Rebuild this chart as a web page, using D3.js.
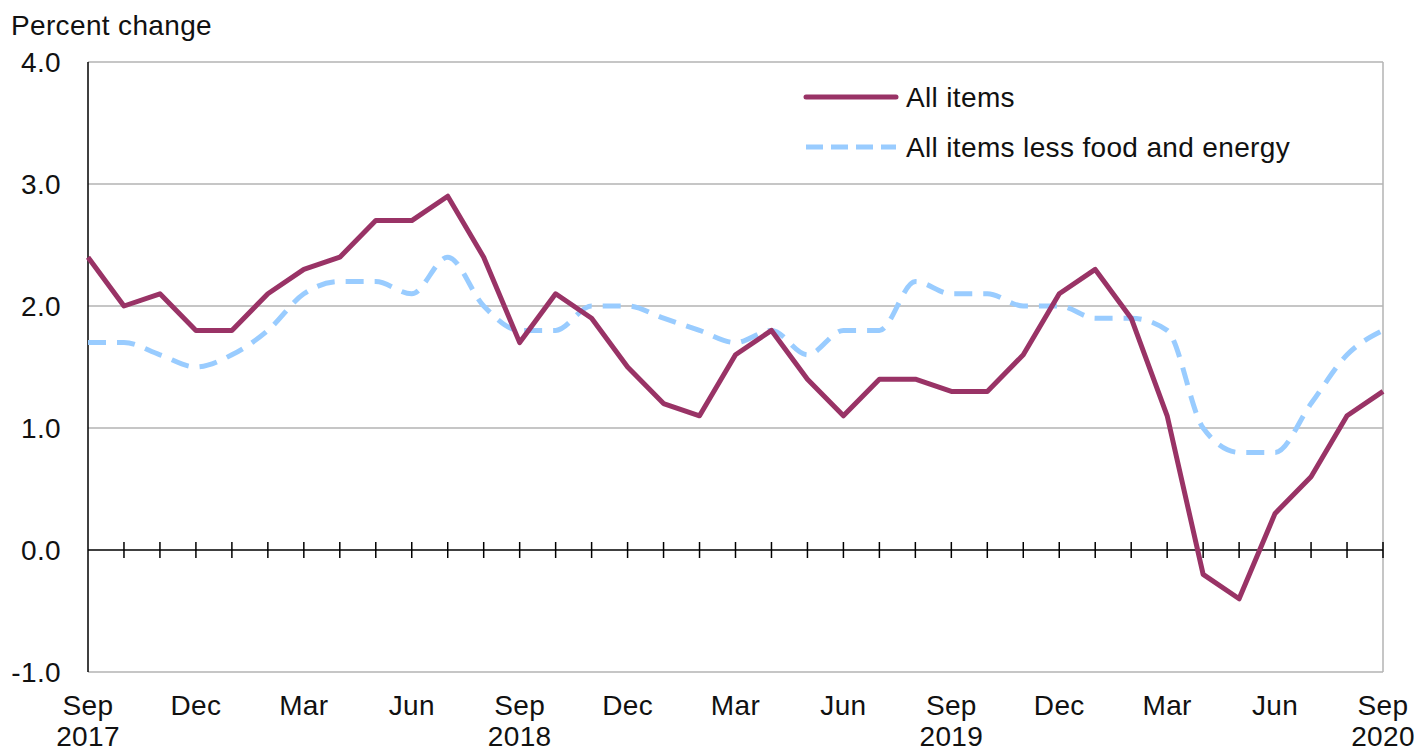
<!DOCTYPE html>
<html>
<head>
<meta charset="utf-8">
<script src="https://d3js.org/d3.v7.min.js"></script>
<style>
  body { margin: 0; background: #fff; }
  svg { display: block; font-family: "Liberation Sans", Arial, sans-serif; letter-spacing: 0.35px; }
</style>
</head>
<body>
<div id="grafico"></div>
<script>
// Meses de Sep 2017 a Sep 2020
var months = ["Sep","Oct","Nov","Dec","Jan","Feb","Mar","Apr","May","Jun","Jul","Aug",
  "Sep","Oct","Nov","Dec","Jan","Feb","Mar","Apr","May","Jun","Jul","Aug",
  "Sep","Oct","Nov","Dec","Jan","Feb","Mar","Apr","May","Jun","Jul","Aug","Sep"];
var years = {0: "2017", 12: "2018", 24: "2019", 36: "2020"};

var allItems = [2.4, 2.0, 2.1, 1.8, 1.8, 2.1, 2.3, 2.4, 2.7, 2.7, 2.9, 2.4,
  1.7, 2.1, 1.9, 1.5, 1.2, 1.1, 1.6, 1.8, 1.4, 1.1, 1.4, 1.4,
  1.3, 1.3, 1.6, 2.1, 2.3, 1.9, 1.1, -0.2, -0.4, 0.3, 0.6, 1.1, 1.3];
var coreItems = [1.7, 1.7, 1.6, 1.5, 1.6, 1.8, 2.1, 2.2, 2.2, 2.1, 2.4, 2.0,
  1.8, 1.8, 2.0, 2.0, 1.9, 1.8, 1.7, 1.8, 1.6, 1.8, 1.8, 2.2,
  2.1, 2.1, 2.0, 2.0, 1.9, 1.9, 1.8, 1.0, 0.8, 0.8, 1.2, 1.6, 1.8];
var yTicks = [-1, 0, 1, 2, 3, 4];
var seriesNames = ["All items", "All items less food and energy"];

var width = 1414, height = 753;
var pLeft = 88, pRight = 1383, pTop = 62, pBottom = 672;
var fs = 28;

var svg = d3.select("#grafico").append("svg")
  .attr("width", width).attr("height", height);

var x = d3.scaleLinear().domain([0, months.length - 1]).range([pLeft, pRight]);
var y = d3.scaleLinear().domain([-1, 4]).range([pBottom, pTop]);

// lineas de cuadricula
svg.selectAll(".grid").data([1, 2, 3]).enter().append("line")
  .attr("x1", pLeft).attr("x2", pRight)
  .attr("y1", function(d) { return y(d); }).attr("y2", function(d) { return y(d); })
  .attr("stroke", "#b3b3b3").attr("stroke-width", 1.5);

// marco
svg.append("line").attr("x1", pLeft).attr("x2", pRight).attr("y1", pTop).attr("y2", pTop)
  .attr("stroke", "#b3b3b3").attr("stroke-width", 1.5);
svg.append("line").attr("x1", pLeft).attr("x2", pRight).attr("y1", pBottom).attr("y2", pBottom)
  .attr("stroke", "#b3b3b3").attr("stroke-width", 1.5);
svg.append("line").attr("x1", pRight).attr("x2", pRight).attr("y1", pTop).attr("y2", pBottom)
  .attr("stroke", "#b3b3b3").attr("stroke-width", 1.5);

// eje y
svg.append("line").attr("x1", pLeft).attr("x2", pLeft).attr("y1", pTop).attr("y2", pBottom)
  .attr("stroke", "#000").attr("stroke-width", 1.5);

svg.selectAll(".ylab").data(yTicks).enter().append("text")
  .attr("x", 61).attr("y", function(d) { return y(d) + 10; })
  .attr("text-anchor", "end").attr("font-size", fs).attr("fill", "#111")
  .text(function(d) { return d.toFixed(1); });

svg.append("text").attr("x", 11).attr("y", 35).attr("font-size", fs).attr("fill", "#111")
  .text("Percent change");

// eje x en cero con marcas
svg.append("line").attr("x1", pLeft).attr("x2", pRight).attr("y1", y(0)).attr("y2", y(0))
  .attr("stroke", "#000").attr("stroke-width", 1.5);
svg.selectAll(".tick").data(d3.range(1, months.length)).enter().append("line")
  .attr("x1", function(d) { return x(d); }).attr("x2", function(d) { return x(d); })
  .attr("y1", y(0) - 8).attr("y2", y(0) + 8)
  .attr("stroke", "#000").attr("stroke-width", 1.5);

// etiquetas del eje x cada 3 meses
var labIdx = d3.range(0, months.length, 3);
svg.selectAll(".xlab").data(labIdx).enter().append("text")
  .attr("x", function(d) { return x(d); }).attr("y", 715)
  .attr("text-anchor", "middle").attr("font-size", fs).attr("fill", "#111")
  .text(function(d) { return months[d]; });
svg.selectAll(".yrlab").data(Object.keys(years)).enter().append("text")
  .attr("x", function(d) { return x(+d); }).attr("y", 746)
  .attr("text-anchor", "middle").attr("font-size", fs).attr("fill", "#111")
  .text(function(d) { return years[d]; });

// lineas de datos
var lineStraight = d3.line()
  .x(function(d, i) { return x(i); }).y(function(d) { return y(d); });
var lineSmooth = d3.line()
  .x(function(d, i) { return x(i); }).y(function(d) { return y(d); })
  .curve(d3.curveMonotoneX);

svg.append("path").datum(coreItems).attr("d", lineSmooth)
  .attr("fill", "none").attr("stroke", "#99ccff").attr("stroke-width", 5)
  .attr("stroke-dasharray", "18,11");
svg.append("path").datum(allItems).attr("d", lineStraight)
  .attr("fill", "none").attr("stroke", "#993366").attr("stroke-width", 5)
  .attr("stroke-linejoin", "round");

// leyenda
svg.append("line").attr("x1", 806).attr("x2", 896).attr("y1", 97).attr("y2", 97)
  .attr("stroke", "#993366").attr("stroke-width", 5).attr("stroke-linecap", "round");
svg.append("line").attr("x1", 806).attr("x2", 896).attr("y1", 147).attr("y2", 147)
  .attr("stroke", "#99ccff").attr("stroke-width", 5).attr("stroke-dasharray", "17,8");
svg.append("text").attr("x", 906).attr("y", 107).attr("font-size", fs).attr("fill", "#111")
  .text(seriesNames[0]);
svg.append("text").attr("x", 906).attr("y", 157).attr("font-size", fs).attr("fill", "#111")
  .text(seriesNames[1]);
</script>
</body>
</html>
